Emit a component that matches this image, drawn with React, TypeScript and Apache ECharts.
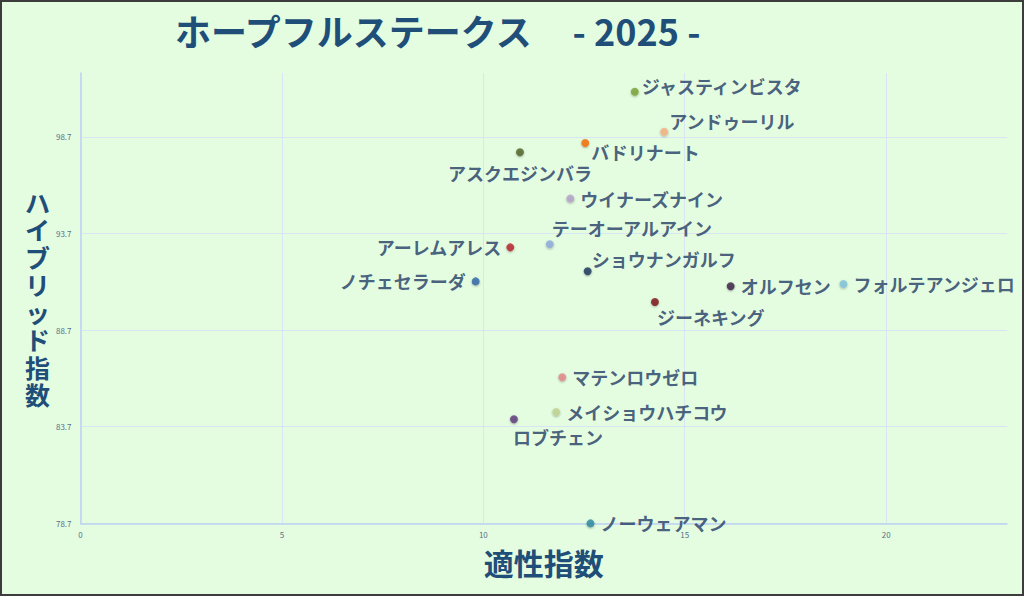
import * as echarts from "echarts";
import { useEffect, useRef } from "react";

const horses = [
	"ジャスティンビスタ",
	"アンドゥーリル",
	"バドリナート",
	"アスクエジンバラ",
	"ウイナーズナイン",
	"テーオーアルアイン",
	"アーレムアレス",
	"ショウナンガルフ",
	"ノチェセラーダ",
	"オルフセン",
	"フォルテアンジェロ",
	"ジーネキング",
	"マテンロウゼロ",
	"メイショウハチコウ",
	"ロブチェン",
	"ノーウェアマン",
];
const aptitude = [13.76, 14.49, 12.53, 10.91, 12.16, 11.65, 10.67, 12.59, 9.81, 16.14, 18.94, 14.26, 11.96, 11.81, 10.76, 12.66];
const hybrid = [101.03, 98.96, 98.38, 97.9, 95.5, 93.14, 92.98, 91.74, 91.22, 90.97, 91.08, 90.15, 86.26, 84.46, 84.09, 78.7];
const dotColors = [
	"#76a232", "#f7b07f", "#f56a00", "#4f6228", "#b4a0cb", "#8faadc", "#b8232a", "#17365d",
	"#2e64a8", "#3b1f46", "#7ec3da", "#7a1316", "#e48686", "#bfd38e", "#5e3a7d", "#2a8aa0",
];

// where each name sits next to its dot
const labelPlace: Record<string, { position: string; distance: number; offset: number[] }> = {
	"ジャスティンビスタ": { position: "right", distance: 3, offset: [0, -6] },
	"アンドゥーリル": { position: "right", distance: 1, offset: [0, -11] },
	"バドリナート": { position: "right", distance: 2, offset: [0, 9] },
	"アスクエジンバラ": { position: "bottom", distance: 8, offset: [0, 0] },
	"テーオーアルアイン": { position: "right", distance: 0, offset: [-2, -16] },
	"ショウナンガルフ": { position: "right", distance: 0, offset: [0, -12] },
	"ジーネキング": { position: "right", distance: 0, offset: [-2, 15] },
	"ロブチェン": { position: "right", distance: 0, offset: [-5, 18] },
	"アーレムアレス": { position: "left", distance: 5, offset: [0, 0] },
	"ノチェセラーダ": { position: "left", distance: 6, offset: [0, 0] },
};

const NAVY = "#1f4e79";
const FONT = "'Noto Sans CJK JP', sans-serif";

export default function App() {
	const ref = useRef<HTMLDivElement>(null);
	useEffect(() => {
		if (!ref.current) return;
		const chart = echarts.init(ref.current, null, { renderer: "svg" });
		chart.setOption({
			animation: false,
			backgroundColor: "#e4fde1",
			textStyle: { fontFamily: FONT },
			title: {
				text: "ホープフルステークス     - 2025 -",
				left: 175,
				top: 12,
				padding: 0,
				textStyle: { fontSize: 36, fontWeight: "bold", color: NAVY, fontFamily: FONT },
			},
			graphic: [
				{
					type: "rect",
					shape: { x: 1, y: 1, width: 1022, height: 594 },
					style: { fill: "none", stroke: "#3c3c3c", lineWidth: 2 },
					silent: true,
				},
			],
			grid: { left: 80.5, right: 17, top: 73, bottom: 72.6 },
			xAxis: {
				type: "value",
				min: 0,
				max: 23,
				interval: 5,
				name: "適性指数",
				nameLocation: "middle",
				nameGap: 24,
				nameTextStyle: { fontSize: 30, fontWeight: "bold", color: NAVY, fontFamily: FONT },
				axisLine: { show: true, lineStyle: { color: "#bcd3ee", width: 1.5 } },
				axisTick: { show: false },
				axisLabel: { fontSize: 8, color: "#5a6f8c", margin: 7, showMaxLabel: false },
				splitLine: { show: true, showMaxLine: false, lineStyle: { color: "#d9e5f3" } },
			},
			yAxis: {
				type: "value",
				min: 78.7,
				max: 102,
				interval: 5,
				name: "ハ\nイ\nブ\nリ\nッ\nド\n指\n数",
				nameLocation: "middle",
				nameRotate: 0,
				nameGap: 33,
				nameTextStyle: {
					fontSize: 25,
					lineHeight: 27.5,
					fontWeight: "bold",
					color: NAVY,
					fontFamily: FONT,
					align: "center",
				},
				axisLine: { show: true, lineStyle: { color: "#bcd3ee", width: 1.5 } },
				axisTick: { show: false },
				axisLabel: { fontSize: 8, color: "#5a6f8c", margin: 9, showMaxLabel: false },
				splitLine: { show: true, showMaxLine: false, lineStyle: { color: "#d9e5f3" } },
			},
			series: [
				{
					type: "scatter",
					symbolSize: 8,
					data: horses.map((name, i) => {
						const p = labelPlace[name] ?? { position: "right", distance: 6, offset: [0, 0] };
						return {
							name,
							value: [aptitude[i], hybrid[i]],
							itemStyle: {
								color: dotColors[i],
								shadowBlur: 2,
								shadowColor: "rgba(0,0,0,0.35)",
								shadowOffsetY: 1,
							},
							label: { position: p.position, distance: p.distance, offset: p.offset },
						};
					}),
					label: {
						show: true,
						formatter: "{b}",
						fontSize: 18,
						fontWeight: "bold",
						color: "#1f3863",
						fontFamily: FONT,
					},
				},
			],
		});
		return () => chart.dispose();
	}, []);
	return <div ref={ref} style={{ position: "absolute", left: 0, top: 0, width: 1024, height: 596 }} />;
}
